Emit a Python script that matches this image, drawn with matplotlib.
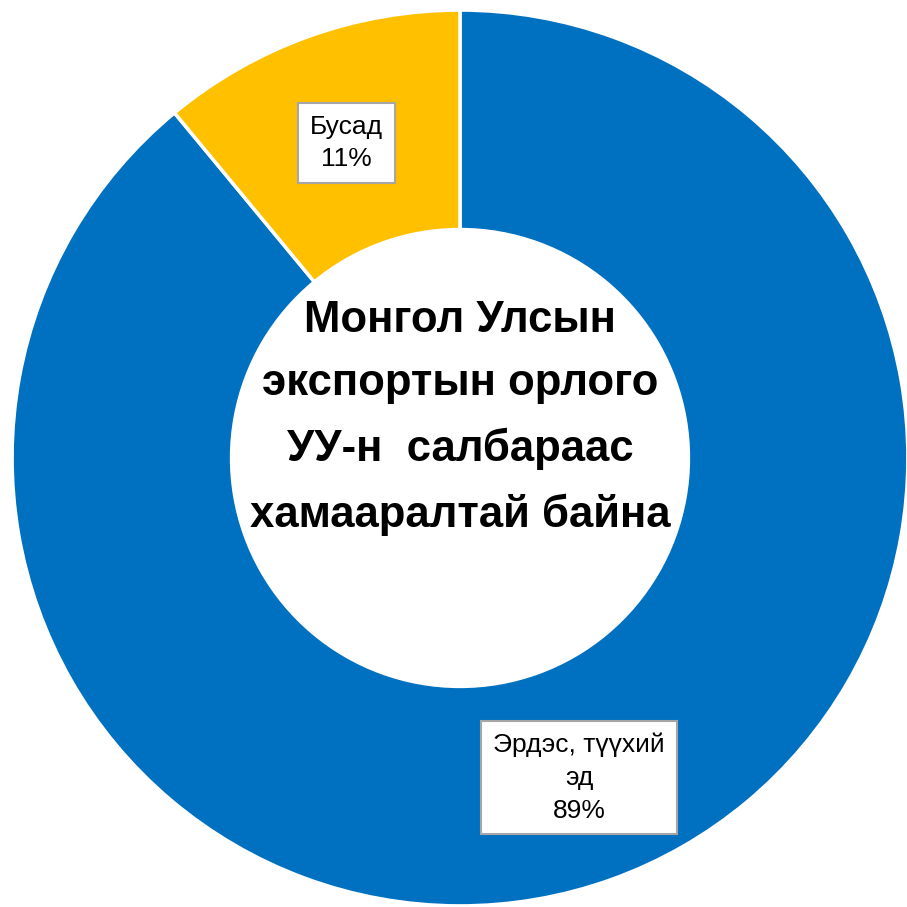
import matplotlib.pyplot as plt

labels = ["Эрдэс, түүхий\nэд", "Бусад"]
values = [89, 11]
colors = ["#0070C0", "#FFC000"]
title = "Монгол Улсын\nэкспортын орлого\nУУ-н  салбараас\nхамааралтай байна"

fonts = ["Liberation Sans Narrow", "Liberation Sans", "DejaVu Sans"]
plt.rcParams["font.family"] = fonts

fig = plt.figure(figsize=(9.07, 9.07), dpi=100)
ax = fig.add_axes([0, 0, 1, 1])

wedges, _ = ax.pie(values, colors=colors, startangle=90, counterclock=False,
                   radius=1.0,
                   wedgeprops=dict(width=0.49, edgecolor="white", linewidth=2.5))

# подписи сегментов
label_pos = [(0.266, -0.714), (-0.254, 0.703)]
for lab, val, (x, y) in zip(labels, values, label_pos):
    ax.text(x, y, f"{lab}\n{val}%", ha="center", va="center", fontsize=19,
            linespacing=1.45,
            bbox=dict(boxstyle="square,pad=0.45", facecolor="white",
                      edgecolor="#A6A6A6", linewidth=1.5))

ax.text(0.0, 0.09, title, ha="center", va="center", fontsize=31.5,
        fontweight="bold", linespacing=1.7)

ax.set_xlim(-1.027, 0.998)
ax.set_ylim(-1.002, 1.022)
ax.set_aspect("equal")
ax.axis("off")

fig.savefig("out.png", dpi=100, facecolor="white")
